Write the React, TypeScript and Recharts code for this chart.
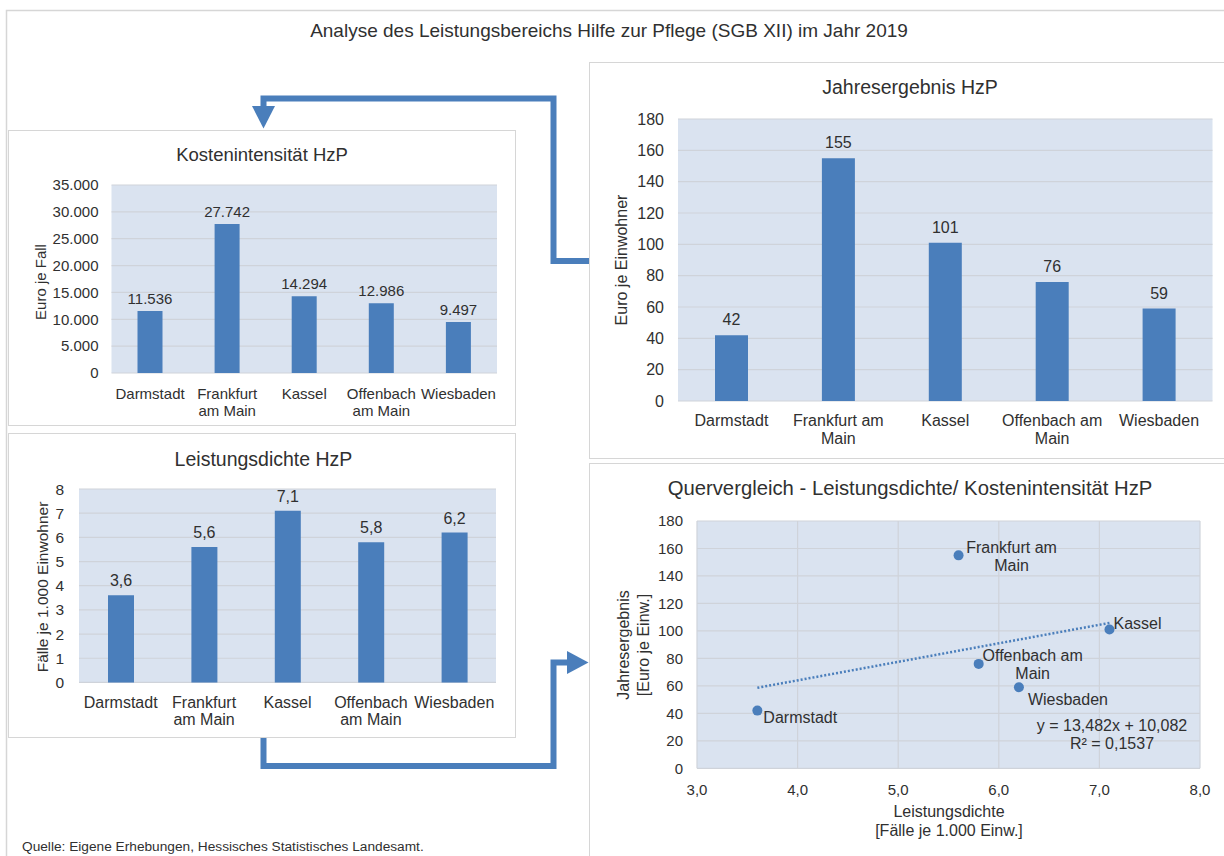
import React from 'react';
import {
  BarChart,
  Bar,
  XAxis,
  YAxis,
  CartesianGrid,
  LabelList,
  ScatterChart,
  Scatter,
  ReferenceLine,
} from 'recharts';

// ---- data -------------------------------------------------------------
const cities = ['Darmstadt', 'Frankfurt am Main', 'Kassel', 'Offenbach am Main', 'Wiesbaden'];

// Kostenintensität HzP, Euro je Fall
const kostenintensitaet = [11536, 27742, 14294, 12986, 9497];
// Leistungsdichte HzP, Fälle je 1.000 Einwohner
const leistungsdichte = [3.6, 5.6, 7.1, 5.8, 6.2];
// Jahresergebnis HzP, Euro je Einwohner
const jahresergebnis = [42, 155, 101, 76, 59];

const kostenTicks = [0, 5000, 10000, 15000, 20000, 25000, 30000, 35000];
const dichteTicks = [0, 1, 2, 3, 4, 5, 6, 7, 8];
const ergebnisTicks = [0, 20, 40, 60, 80, 100, 120, 140, 160, 180];
const dichteAxisTicks = [3, 4, 5, 6, 7, 8];

// category labels, broken into lines
const narrowCityLabels = [['Darmstadt'], ['Frankfurt', 'am Main'], ['Kassel'], ['Offenbach', 'am Main'], ['Wiesbaden']];
const wideCityLabels = [['Darmstadt'], ['Frankfurt am', 'Main'], ['Kassel'], ['Offenbach am', 'Main'], ['Wiesbaden']];
const scatterCityLabels = [['Darmstadt'], ['Frankfurt am', 'Main'], ['Kassel'], ['Offenbach am', 'Main'], ['Wiesbaden']];

// linear trend (Jahresergebnis over Leistungsdichte)
const trendSlope = 13.482;
const trendIntercept = 10.082;
const trendRSquared = 0.1537;

// ---- styling ----------------------------------------------------------
const FONT = '"Liberation Sans", Arial, Helvetica, sans-serif';
const TEXT = '#303030';
const BAR = '#4a7ebb';
const PLOT_BG = '#dae3f0';
const GRID = '#cfd3da';
const BOX = '#d6d6d6';

const fmtThousands = (v: number) => Math.round(v).toString().replace(/\B(?=(\d{3})+(?!\d))/g, '.');
const fmtDecimal = (v: number, d: number) => v.toFixed(d).replace('.', ',');

const kostenData = cities.map((city, i) => ({ city, value: kostenintensitaet[i] }));
const dichteData = cities.map((city, i) => ({ city, value: leistungsdichte[i] }));
const ergebnisData = cities.map((city, i) => ({ city, value: jahresergebnis[i] }));
const scatterData = cities.map((city, i) => ({ city, x: leistungsdichte[i], y: jahresergebnis[i] }));

const xMin = Math.min(...leistungsdichte);
const xMax = Math.max(...leistungsdichte);
const trendSegment = [
  { x: xMin, y: trendSlope * xMin + trendIntercept },
  { x: xMax, y: trendSlope * xMax + trendIntercept },
];

// placement of the point labels in the cross comparison
const scatterLabelPlacement: Record<string, { dx: number; dy: number; anchor: 'start' | 'middle'; gap: number }> = {
  Darmstadt: { dx: 6, dy: 7, anchor: 'start', gap: 0 },
  'Frankfurt am Main': { dx: 53, dy: -8, anchor: 'middle', gap: 18 },
  Kassel: { dx: 4, dy: -6, anchor: 'start', gap: 0 },
  'Offenbach am Main': { dx: 54, dy: -8, anchor: 'middle', gap: 17.5 },
  Wiesbaden: { dx: 9, dy: 12, anchor: 'start', gap: 0 },
};

type TickOpts = { lines: string[][]; fontSize: number; firstDy: number; gap: number };

const makeCategoryTick = (opts: TickOpts) => (props: any) => {
  const { x, y, payload } = props;
  const idx = cities.indexOf(payload?.value);
  const lines = opts.lines[idx] || [String(payload?.value ?? '')];
  return (
    <g>
      {lines.map((t, j) => (
        <text
          key={j}
          x={x}
          y={y + opts.firstDy + j * opts.gap}
          textAnchor="middle"
          dominantBaseline="central"
          fontSize={opts.fontSize}
          fontFamily={FONT}
          fill={TEXT}
        >
          {t}
        </text>
      ))}
    </g>
  );
};

const ScatterPoint = (props: any) => {
  const { cx, cy, payload } = props;
  const idx = cities.indexOf(payload.city);
  const place = scatterLabelPlacement[payload.city];
  const lines = scatterCityLabels[idx];
  return (
    <g>
      <circle cx={cx} cy={cy} r={5} fill={BAR} />
      {lines.map((t, j) => (
        <text
          key={j}
          x={cx + place.dx}
          y={cy + place.dy + j * place.gap}
          textAnchor={place.anchor}
          dominantBaseline="central"
          fontSize={16}
          fontFamily={FONT}
          fill={TEXT}
        >
          {t}
        </text>
      ))}
    </g>
  );
};

const abs = (left: number, top: number): React.CSSProperties => ({ position: 'absolute', left, top });

const Rot = ({ x, y, children, size = 16 }: { x: number; y: number; children: React.ReactNode; size?: number }) => (
  <text
    x={x}
    y={y}
    transform={`rotate(-90 ${x} ${y})`}
    textAnchor="middle"
    dominantBaseline="central"
    fontSize={size}
    fontFamily={FONT}
    fill={TEXT}
  >
    {children}
  </text>
);

const Title = ({ x, y, children, size }: { x: number; y: number; children: React.ReactNode; size: number }) => (
  <text x={x} y={y} textAnchor="middle" dominantBaseline="central" fontSize={size} fontFamily={FONT} fill={TEXT}>
    {children}
  </text>
);

export default function App() {
  const tickStyle = (size: number) => ({ fontSize: size, fontFamily: FONT, fill: TEXT });
  const labelStyle = (size: number) => ({ fontSize: size, fontFamily: FONT, fill: TEXT });

  return (
    <div style={{ position: 'absolute', left: 0, top: 0, width: 1224, height: 856, background: '#ffffff', overflow: 'hidden', fontFamily: FONT }}>
      {/* frames and connector arrows */}
      <svg width={1224} height={856} style={abs(0, 0)}>
        <rect x={6.5} y={10.5} width={1240} height={870} fill="none" stroke={BOX} strokeWidth={1.5} />
        <rect x={8.5} y={130.5} width={507} height={295} fill="#fff" stroke={BOX} />
        <rect x={8.5} y={433.5} width={507} height={304} fill="#fff" stroke={BOX} />
        <rect x={589.5} y={62.5} width={660} height={396} fill="#fff" stroke={BOX} />
        <rect x={589.5} y={463.5} width={660} height={420} fill="#fff" stroke={BOX} />

        <path d="M 589 261 H 553.5 V 98.5 H 263.5 V 110" fill="none" stroke={BAR} strokeWidth={6} />
        <polygon points="252,106 275,106 263.5,128.5" fill={BAR} />
        <path d="M 263.5 738 V 766 H 553.5 V 662.5 H 569" fill="none" stroke={BAR} strokeWidth={6} />
        <polygon points="567,651 567,674 588.5,662.5" fill={BAR} />

        <Title x={609} y={30} size={19}>Analyse des Leistungsbereichs Hilfe zur Pflege (SGB XII) im Jahr 2019</Title>
        <Title x={262} y={154} size={18.5}>Kostenintensität HzP</Title>
        <Title x={263.5} y={459} size={19.5}>Leistungsdichte HzP</Title>
        <Title x={910} y={87} size={19.5}>Jahresergebnis HzP</Title>
        <Title x={910} y={488} size={20.3}>Quervergleich - Leistungsdichte/ Kostenintensität HzP</Title>

        <Rot x={40} y={282} size={15}>Euro je Fall</Rot>
        <Rot x={42} y={587} size={15.5}>Fälle je 1.000 Einwohner</Rot>
        <Rot x={621} y={260} size={16}>Euro je Einwohner</Rot>
        <Rot x={623} y={645} size={16}>Jahresergebnis</Rot>
        <Rot x={643} y={645} size={16}>[Euro je Einw.]</Rot>

        <Title x={949} y={811} size={16}>Leistungsdichte</Title>
        <Title x={949} y={830} size={16}>[Fälle je 1.000 Einw.]</Title>

        <text x={22} y={846} dominantBaseline="central" fontSize={13.7} fontFamily={FONT} fill={TEXT}>
          Quelle: Eigene Erhebungen, Hessisches Statistisches Landesamt.
        </text>
      </svg>

      {/* Kostenintensität HzP */}
      <div style={abs(8, 130)}>
        <BarChart width={508} height={295} data={kostenData} margin={{ top: 55, right: 19, bottom: 0, left: 0 }}>
          <CartesianGrid vertical={false} stroke={GRID} strokeWidth={1.2} fill={PLOT_BG} fillOpacity={1} />
          <XAxis
            dataKey="city"
            axisLine={false}
            tickLine={false}
            interval={0}
            height={52}
            tick={makeCategoryTick({ lines: narrowCityLabels, fontSize: 15, firstDy: 12, gap: 17.5 })}
          />
          <YAxis
            width={103.5}
            domain={[0, 35000]}
            ticks={kostenTicks}
            axisLine={false}
            tickLine={false}
            tickMargin={7}
            tickFormatter={fmtThousands}
            tick={tickStyle(15)}
          />
          <Bar dataKey="value" fill={BAR} barSize={25} isAnimationActive={false}>
            <LabelList dataKey="value" position="top" offset={7} formatter={(v: any) => fmtThousands(Number(v))} style={labelStyle(15)} />
          </Bar>
        </BarChart>
      </div>

      {/* Leistungsdichte HzP */}
      <div style={abs(8, 434)}>
        <BarChart width={508} height={304} data={dichteData} margin={{ top: 55, right: 20, bottom: 0, left: 0 }}>
          <CartesianGrid vertical={false} stroke={GRID} strokeWidth={1.2} fill={PLOT_BG} fillOpacity={1} />
          <XAxis
            dataKey="city"
            axisLine={false}
            tickLine={false}
            interval={0}
            height={55.6}
            tick={makeCategoryTick({ lines: narrowCityLabels, fontSize: 16, firstDy: 11.6, gap: 17 })}
          />
          <YAxis
            width={71}
            domain={[0, 8]}
            ticks={dichteTicks}
            axisLine={false}
            tickLine={false}
            tickMargin={9}
            tick={tickStyle(15.5)}
          />
          <Bar dataKey="value" fill={BAR} barSize={26} isAnimationActive={false}>
            <LabelList dataKey="value" position="top" offset={9} formatter={(v: any) => fmtDecimal(Number(v), 1)} style={labelStyle(16)} />
          </Bar>
        </BarChart>
      </div>

      {/* Jahresergebnis HzP */}
      <div style={abs(589, 62)}>
        <BarChart width={635} height={396} data={ergebnisData} margin={{ top: 57, right: 11.5, bottom: 0, left: 0 }}>
          <CartesianGrid vertical={false} stroke={GRID} strokeWidth={1.2} fill={PLOT_BG} fillOpacity={1} />
          <XAxis
            dataKey="city"
            axisLine={false}
            tickLine={false}
            interval={0}
            height={57}
            tick={makeCategoryTick({ lines: wideCityLabels, fontSize: 16, firstDy: 11, gap: 18 })}
          />
          <YAxis
            width={89}
            domain={[0, 180]}
            ticks={ergebnisTicks}
            axisLine={false}
            tickLine={false}
            tickMargin={8}
            tick={tickStyle(16)}
          />
          <Bar dataKey="value" fill={BAR} barSize={33} isAnimationActive={false}>
            <LabelList dataKey="value" position="top" offset={10} style={labelStyle(16)} />
          </Bar>
        </BarChart>
      </div>

      {/* Quervergleich */}
      <div style={abs(589, 463)}>
        <ScatterChart width={635} height={393} margin={{ top: 58, right: 24, bottom: 0, left: 0 }}>
          <CartesianGrid stroke={GRID} strokeWidth={1.2} fill={PLOT_BG} fillOpacity={1} />
          <XAxis
            type="number"
            dataKey="x"
            domain={[3, 8]}
            ticks={dichteAxisTicks}
            axisLine={false}
            tickLine={false}
            tickMargin={10}
            height={87.7}
            tickFormatter={(v: number) => fmtDecimal(v, 1)}
            tick={tickStyle(15)}
          />
          <YAxis
            type="number"
            dataKey="y"
            width={108}
            domain={[0, 180]}
            ticks={ergebnisTicks}
            axisLine={false}
            tickLine={false}
            tickMargin={8}
            tick={tickStyle(15)}
          />
          <ReferenceLine segment={trendSegment} stroke={BAR} strokeWidth={2.5} strokeDasharray="2 2" />
          <Scatter data={scatterData} fill={BAR} shape={ScatterPoint} isAnimationActive={false} />
          <text x={523} y={262} textAnchor="middle" dominantBaseline="central" fontSize={16} fontFamily={FONT} fill={TEXT}>
            {`y = ${fmtDecimal(trendSlope, 3)}x + ${fmtDecimal(trendIntercept, 3)}`}
          </text>
          <text x={523} y={280} textAnchor="middle" dominantBaseline="central" fontSize={16} fontFamily={FONT} fill={TEXT}>
            {`R² = ${fmtDecimal(trendRSquared, 4)}`}
          </text>
        </ScatterChart>
      </div>
    </div>
  );
}
